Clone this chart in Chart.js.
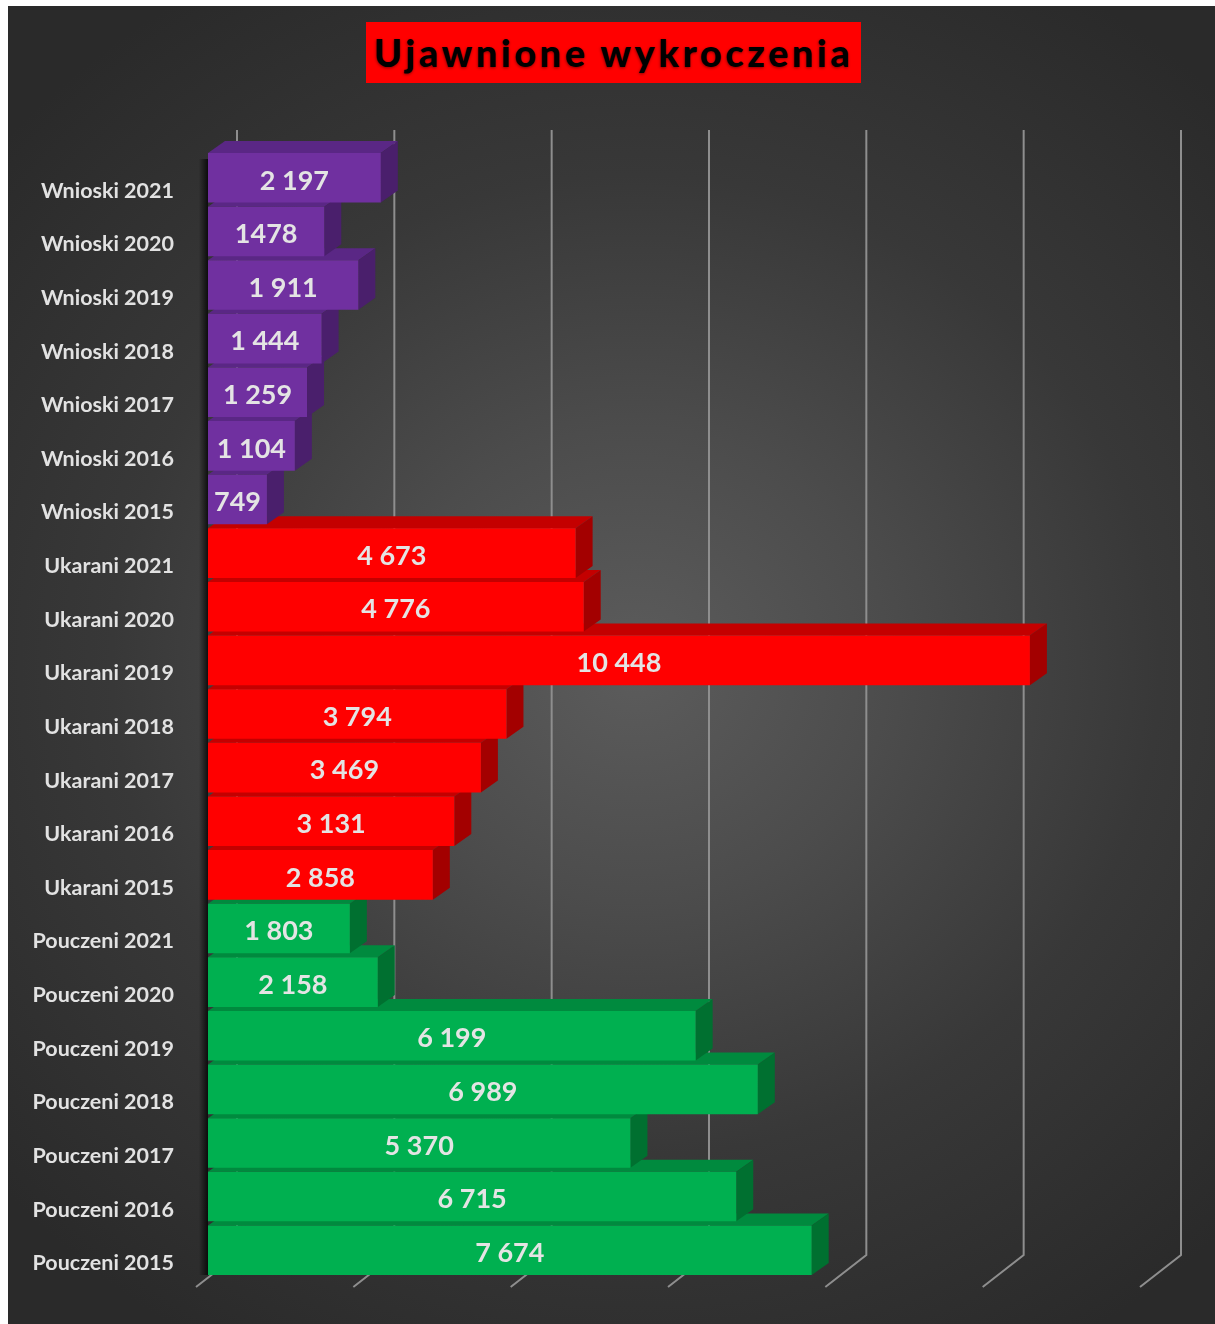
<!DOCTYPE html>
<html>
<head>
<meta charset="utf-8">
<script src="https://cdn.jsdelivr.net/npm/chart.js@4/dist/chart.umd.min.js"></script>
<style>
  html, body { margin: 0; padding: 0; background: #ffffff; }
  #wrap {
    position: absolute; left: 8px; top: 6px; width: 1207px; height: 1318px;
    background: radial-gradient(ellipse 70% 60% at 52% 50%, #5c5c5c 0%, #4c4c4c 30%, #383838 62%, #2a2a2a 100%);
    overflow: hidden;
  }
  #title {
    position: absolute; left: 358px; top: 16px; width: 495px; height: 61px;
    background: #ff0000; color: #000; text-align: center;
    font-family: Lato, "Open Sans", sans-serif; font-weight: 900; font-size: 38px;
    letter-spacing: 3.5px; line-height: 61px;
    text-shadow: 0 1px 3px rgba(0,0,0,0.45);
  }
  #c { position: absolute; left: 0; top: 0; }
</style>
</head>
<body>
<div id="wrap">
  <canvas id="c" width="1207" height="1318"></canvas>
  <div id="title">Ujawnione wykroczenia</div>
</div>
<script>
// ---- data ----
const categories = [
  'Wnioski 2021', 'Wnioski 2020', 'Wnioski 2019', 'Wnioski 2018', 'Wnioski 2017', 'Wnioski 2016', 'Wnioski 2015',
  'Ukarani 2021', 'Ukarani 2020', 'Ukarani 2019', 'Ukarani 2018', 'Ukarani 2017', 'Ukarani 2016', 'Ukarani 2015',
  'Pouczeni 2021', 'Pouczeni 2020', 'Pouczeni 2019', 'Pouczeni 2018', 'Pouczeni 2017', 'Pouczeni 2016', 'Pouczeni 2015'
];
const values = [
  2197, 1478, 1911, 1444, 1259, 1104, 749,
  4673, 4776, 10448, 3794, 3469, 3131, 2858,
  1803, 2158, 6199, 6989, 5370, 6715, 7674
];
const valueLabels = [
  '2 197', '1478', '1 911', '1 444', '1 259', '1 104', '749',
  '4 673', '4 776', '10 448', '3 794', '3 469', '3 131', '2 858',
  '1 803', '2 158', '6 199', '6 989', '5 370', '6 715', '7 674'
];
const gridValues = [0, 2000, 4000, 6000, 8000, 10000, 12000];

// ---- styles ----
const palette = {
  Wnioski:  { front: '#7030a0', top: '#5a2785', side: '#4a1f6c' },
  Ukarani:  { front: '#ff0000', top: '#c40000', side: '#a30000' },
  Pouczeni: { front: '#00b050', top: '#008a3e', side: '#007030' }
};
const groupOf = c => c.split(' ')[0];
const frontColors = categories.map(c => palette[groupOf(c)].front);

const DX = 17, DY = -12;

const bars3d = {
  id: 'bars3d',
  beforeDatasetsDraw(chart) {
    const ctx = chart.ctx, ca = chart.chartArea;
    const xs = chart.scales.x;
    // perspective gridlines (back wall + floor)
    ctx.save();
    ctx.strokeStyle = '#8e8e8e';
    ctx.lineWidth = 2;
    gridValues.forEach(v => {
      const xf = xs.getPixelForValue(v);
      ctx.beginPath();
      ctx.moveTo(xf + 29, ca.top - 21);
      ctx.lineTo(xf + 29, ca.bottom - 22);
      ctx.lineTo(xf - 12, ca.bottom + 10);
      ctx.stroke();
    });
    ctx.restore();
    // left shadow strip
    ctx.save();
    const g = ctx.createLinearGradient(ca.left - 9, 0, ca.left, 0);
    g.addColorStop(0, 'rgba(0,0,0,0)');
    g.addColorStop(1, 'rgba(0,0,0,0.75)');
    ctx.fillStyle = g;
    ctx.fillRect(ca.left - 9, ca.top + 8, 9, ca.bottom - ca.top - 10);
    ctx.restore();
    // top and side faces, painted bottom-to-top
    const meta = chart.getDatasetMeta(0);
    ctx.save();
    for (let i = meta.data.length - 1; i >= 0; i--) {
      const el = meta.data[i];
      const p = el.getProps(['x', 'y', 'base', 'height'], true);
      const yt = p.y - p.height / 2, yb = p.y + p.height / 2;
      const xl = p.base, xr = p.x;
      const pal = palette[groupOf(categories[i])];
      ctx.fillStyle = pal.top;
      ctx.beginPath();
      ctx.moveTo(xl, yt); ctx.lineTo(xl + DX, yt + DY); ctx.lineTo(xr + DX, yt + DY); ctx.lineTo(xr, yt);
      ctx.closePath(); ctx.fill();
      ctx.fillStyle = pal.side;
      ctx.beginPath();
      ctx.moveTo(xr, yt); ctx.lineTo(xr + DX, yt + DY); ctx.lineTo(xr + DX, yb + DY); ctx.lineTo(xr, yb);
      ctx.closePath(); ctx.fill();
    }
    ctx.restore();
  },
  afterDatasetsDraw(chart) {
    const ctx = chart.ctx;
    const meta = chart.getDatasetMeta(0);
    ctx.save();
    ctx.fillStyle = '#e4e4e4';
    ctx.font = 'bold 27px Lato, "Open Sans", sans-serif';
    ctx.textAlign = 'center';
    ctx.textBaseline = 'middle';
    meta.data.forEach((el, i) => {
      const p = el.getProps(['x', 'y', 'base'], true);
      ctx.fillText(valueLabels[i], (p.x + p.base) / 2, p.y + 3);
    });
    ctx.restore();
  }
};

new Chart(document.getElementById('c'), {
  type: 'bar',
  data: {
    labels: categories,
    datasets: [{
      data: values,
      backgroundColor: frontColors,
      borderWidth: 0,
      categoryPercentage: 1,
      barPercentage: 0.925
    }]
  },
  options: {
    indexAxis: 'y',
    responsive: false,
    animation: false,
    devicePixelRatio: 1,
    layout: { padding: { left: 0, right: 63, top: 145, bottom: 47 } },
    plugins: { legend: { display: false }, tooltip: { enabled: false }, title: { display: false } },
    scales: {
      x: { display: false, min: 0, max: 12000 },
      y: {
        grid: { display: false },
        border: { display: false },
        afterFit: s => { s.width = 200; },
        ticks: {
          color: '#e2e2e2',
          padding: 26,
          labelOffset: 13,
          font: { family: 'Lato, "Open Sans", sans-serif', weight: 'bold', size: 21.5 }
        }
      }
    }
  },
  plugins: [bars3d]
});
</script>
</body>
</html>
